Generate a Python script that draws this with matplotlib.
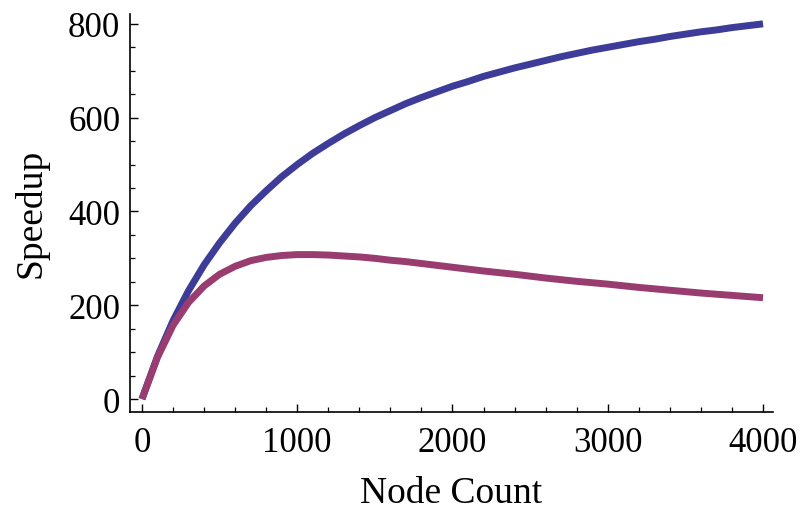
import matplotlib
matplotlib.use("Agg")
import matplotlib.pyplot as plt
from matplotlib.ticker import MultipleLocator

# Values
blue_nodes = [0, 100, 200, 300, 400, 500, 600, 700, 800, 900, 1000,
              1100, 1200, 1300, 1400, 1500, 1600, 1700, 1800, 1900, 2000,
              2100, 2200, 2300, 2400, 2500, 2600, 2700, 2800, 2900, 3000,
              3100, 3200, 3300, 3400, 3500, 3600, 3700, 3800, 3900, 4000]
blue_speedup = [0, 91, 167, 231, 286, 333, 375, 412, 444, 474, 500,
                524, 545, 565, 583, 600, 615, 630, 643, 655, 667,
                677, 688, 697, 706, 714, 722, 730, 737, 744, 750,
                756, 762, 767, 773, 778, 783, 787, 792, 796, 800]

purple_nodes = [0, 100, 200, 300, 400, 500, 600, 700, 800, 900, 1000,
                1100, 1200, 1300, 1400, 1500, 1600, 1700, 1800, 1900, 2000,
                2200, 2400, 2600, 2800, 3000, 3200, 3400, 3600, 3800, 4000]
purple_speedup = [0, 89, 157, 206, 241, 266, 283, 295, 302, 306, 308,
                  308, 307, 305, 303, 300, 296, 293, 289, 285, 281,
                  273, 266, 258, 251, 245, 238, 232, 226, 221, 216]

x_ticks = [0, 1000, 2000, 3000, 4000]
y_ticks = [0, 200, 400, 600, 800]

plt.rcParams['font.family'] = ['Liberation Serif', 'DejaVu Serif']

fig = plt.figure(figsize=(8.03, 5.10), dpi=100)
ax = fig.add_axes([0.1619, 0.1908, 0.9626 - 0.1619, 0.9706 - 0.1908])

ax.plot(blue_nodes, blue_speedup, color='#3d3d99', lw=5, solid_capstyle='butt',
        solid_joinstyle='round')
ax.plot(purple_nodes, purple_speedup, color='#993d71', lw=5, solid_capstyle='butt',
        solid_joinstyle='round')

ax.set_xlim(-77, 4064)
ax.set_ylim(-27, 821)

ax.spines['top'].set_visible(False)
ax.spines['right'].set_visible(False)
for s in ('left', 'bottom'):
    ax.spines[s].set_linewidth(1.2)

ax.set_xticks(x_ticks)
ax.set_yticks(y_ticks)
ax.xaxis.set_minor_locator(MultipleLocator(200))
ax.yaxis.set_minor_locator(MultipleLocator(50))
ax.tick_params(which='major', direction='in', length=6, width=1.0,
               labelsize=25, pad=7)
ax.tick_params(axis='x', which='major', pad=10)
ax.tick_params(which='minor', direction='in', length=3.5, width=0.9)

ax.set_xlabel('Node Count', fontsize=27, labelpad=12)
ax.set_ylabel('Speedup', fontsize=27, labelpad=14)

fig.savefig('out.png', dpi=100)
